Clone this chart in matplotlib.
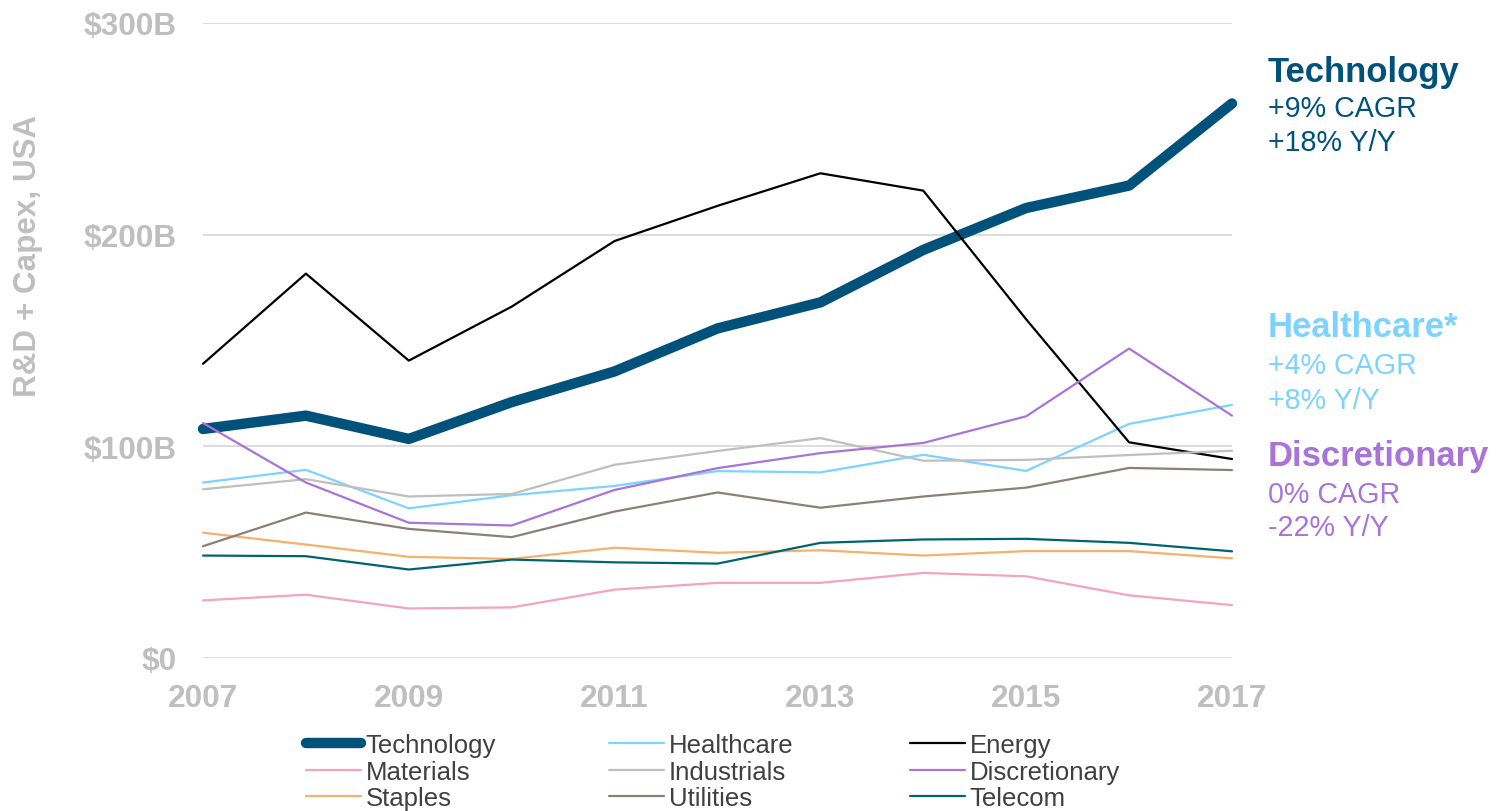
import matplotlib
matplotlib.use("Agg")
import matplotlib.pyplot as plt
from matplotlib.ticker import FuncFormatter

years = list(range(2007, 2018))
technology = [108.2, 114.5, 103.5, 120.9, 135.4, 155.7, 168.0, 192.8, 212.6, 223.2, 262.0]
healthcare = [82.9, 88.9, 70.7, 76.9, 81.3, 88.3, 87.7, 96.0, 88.4, 110.6, 119.6]
energy = [139.0, 181.6, 140.5, 166.0, 197.0, 213.6, 229.0, 220.8, 160.0, 101.9, 94.0]
materials = [27.2, 29.9, 23.4, 23.9, 32.3, 35.5, 35.5, 40.2, 38.6, 29.6, 25.0]
industrials = [79.7, 84.5, 76.3, 77.5, 91.3, 97.8, 103.9, 93.2, 93.6, 95.9, 97.9]
discretionary = [111.0, 82.9, 63.9, 62.6, 79.4, 89.7, 96.8, 101.6, 114.2, 146.2, 114.5]
staples = [59.2, 53.6, 47.8, 46.8, 52.1, 49.7, 50.9, 48.4, 50.5, 50.5, 47.1]
utilities = [52.8, 68.7, 61.0, 57.1, 69.2, 78.2, 71.0, 76.3, 80.5, 89.8, 88.8]
telecom = [48.4, 48.1, 41.8, 46.5, 45.2, 44.6, 54.4, 56.0, 56.3, 54.4, 50.4]

series_names = ["Technology", "Healthcare", "Energy", "Materials", "Industrials",
                "Discretionary", "Staples", "Utilities", "Telecom"]
series_values = [technology, healthcare, energy, materials, industrials,
                 discretionary, staples, utilities, telecom]
colors = ["#00527A", "#7DD3FF", "#000000", "#F4A3C0", "#BFBFBF",
          "#A874D8", "#F5B06C", "#8C7F7B", "#00646E"]
widths = [7.5, 1.6, 1.6, 1.6, 1.6, 1.6, 1.6, 1.6, 1.6]

y_ticks = [0, 100, 200, 300]
x_ticks = [2007, 2009, 2011, 2013, 2015, 2017]

annotations = [
    ("#00527A", [("Technology", True), ("+9% CAGR", False), ("+18% Y/Y", False)], [82, 117, 151]),
    ("#7DD3FF", [("Healthcare*", True), ("+4% CAGR", False), ("+8% Y/Y", False)], [337, 374, 409]),
    ("#A874D8", [("Discretionary", True), ("0% CAGR", False), ("-22% Y/Y", False)], [466, 503, 536]),
]

FAM = ['Liberation Sans', 'DejaVu Sans']
plt.rcParams['font.family'] = FAM

W, H = 1499, 812
fig = plt.figure(figsize=(W / 100, H / 100), dpi=100)
ax = fig.add_axes([203 / W, 1 - 659 / H, (1232 - 203) / W, (659 - 24) / H])

lines = []
for name, vals, c, lw in zip(series_names, series_values, colors, widths):
    ln, = ax.plot(years, vals, color=c, lw=lw, label=name, solid_capstyle='round',
                  solid_joinstyle='round', clip_on=False)
    lines.append(ln)

ax.set_xlim(2007, 2017)
ax.set_ylim(0, 300)
ax.set_yticks(y_ticks)
ax.set_xticks(x_ticks)
ax.yaxis.set_major_formatter(FuncFormatter(lambda v, p: f"${int(v)}" if v == 0 else f"${int(v)}B"))
ax.grid(axis='y', color='#D9D9D9', lw=1.3)
ax.set_axisbelow(True)
for s in ax.spines.values():
    s.set_visible(False)
ax.tick_params(axis='both', length=0, labelsize=22.8, labelcolor='#BFBFBF')
ax.tick_params(axis='x', pad=18)
ax.tick_params(axis='y', pad=19)
for lab in ax.get_xticklabels() + ax.get_yticklabels():
    lab.set_fontweight('bold')

fig.text(28 / W, 1 - 256 / H, "R&D + Capex, USA", rotation=90, ha='center', va='center',
         fontsize=22.6, fontweight='bold', color='#BFBFBF')

for col, txts, ys in annotations:
    for (txt, bold), yb in zip(txts, ys):
        fig.text(1268 / W, 1 - yb / H, txt, ha='left', va='baseline', color=col,
                 fontsize=24.9 if bold else 20.6, fontweight='bold' if bold else 'normal')

# legend: three columns at fixed positions, row-major order
col_x = [306, 609, 910]
for ci in range(3):
    hs = [lines[ci + 3 * r] for r in range(3)]
    leg = fig.legend(handles=hs, labels=[h.get_label() for h in hs], loc='upper left',
                     bbox_to_anchor=(col_x[ci] / W, 1 - 734 / H), bbox_transform=fig.transFigure,
                     frameon=False, fontsize=18.5, handlelength=2.15, handletextpad=0.18,
                     labelspacing=0.1, borderpad=0, borderaxespad=0)
    for t in leg.get_texts():
        t.set_color('#404040')

fig.savefig("out.png", dpi=100)
